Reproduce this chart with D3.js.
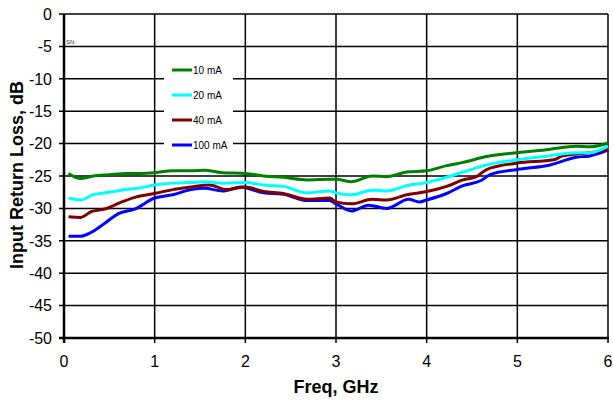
<!DOCTYPE html>
<html><head><meta charset="utf-8">
<script src="https://cdn.jsdelivr.net/npm/d3@7"></script>
<style>body{margin:0;background:#fff}svg{display:block}</style>
</head><body>
<script>
const xTicks = [0,1,2,3,4,5,6];
const yTicks = [0,-5,-10,-15,-20,-25,-30,-35,-40,-45,-50];
const seriesNames = ["10 mA","20 mA","40 mA","100 mA"];
const seriesColors = ["#008000","#00ffff","#800000","#0000ff"];

const f10 = [0.05,0.18,0.32,0.5,0.68,0.85,1.0,1.2,1.4,1.55,1.75,2.0,2.2,2.42,2.68,2.93,3.0,3.17,3.4,3.56,3.78,4.0,4.22,4.4,4.66,5.0,5.35,5.65,5.8,6.0];
const v10 = [-24.6,-25.4,-25.0,-24.8,-24.6,-24.6,-24.5,-24.2,-24.2,-24.1,-24.5,-24.6,-25.0,-25.2,-25.6,-25.5,-25.5,-25.9,-25.0,-25.1,-24.4,-24.2,-23.4,-22.9,-22.0,-21.4,-20.9,-20.4,-20.5,-19.9];

const f20 = [0.05,0.18,0.32,0.5,0.68,0.85,1.0,1.2,1.4,1.55,1.75,2.0,2.2,2.42,2.68,2.93,3.0,3.17,3.4,3.56,3.78,4.0,4.22,4.4,4.66,5.0,5.35,5.65,5.8,6.0];
const v20 = [-28.4,-28.7,-27.9,-27.5,-27.1,-26.8,-26.4,-26.1,-26.0,-25.9,-26.1,-26.0,-26.4,-26.6,-27.6,-27.3,-27.6,-27.9,-27.2,-27.3,-26.5,-26.0,-25.2,-24.4,-23.3,-22.5,-21.9,-21.4,-21.4,-20.4];

const f40 = [0.05,0.18,0.3,0.45,0.62,0.78,1.0,1.2,1.4,1.6,1.8,2.0,2.2,2.42,2.68,2.93,3.0,3.17,3.4,3.56,3.78,4.0,4.22,4.4,4.55,4.66,5.0,5.4,5.5,5.8,6.0];
const v40 = [-31.3,-31.4,-30.5,-30.1,-29.1,-28.3,-27.7,-27.1,-26.7,-26.4,-27.1,-26.7,-27.4,-27.7,-28.6,-28.4,-29.0,-29.3,-28.6,-28.7,-27.9,-27.4,-26.6,-25.6,-25.1,-24.0,-23.0,-22.5,-21.9,-21.4,-20.9];

const f100 = [0.05,0.18,0.3,0.45,0.6,0.78,1.0,1.2,1.4,1.55,1.75,1.95,2.2,2.42,2.68,2.93,3.0,3.17,3.36,3.56,3.8,3.92,4.0,4.22,4.4,4.6,4.7,5.0,5.36,5.65,5.8,6.0];
const v100 = [-34.3,-34.3,-33.7,-32.3,-30.8,-30.1,-28.4,-27.9,-27.1,-26.9,-27.3,-26.7,-27.6,-27.8,-28.8,-28.8,-29.3,-30.4,-29.5,-30.0,-28.6,-29.0,-28.7,-27.7,-26.5,-25.7,-24.8,-24.0,-23.3,-22.1,-21.9,-21.0];

const W = 613, H = 402;
const svg = d3.select("body").append("svg").attr("width",W).attr("height",H);
const x = d3.scaleLinear().domain([0,6]).range([64,608]);
const y = d3.scaleLinear().domain([-50,0]).range([338,14]);

const font = "'Liberation Sans', Arial, sans-serif";

// gridlines
const g = svg.append("g");
g.selectAll("line.h").data(yTicks.filter(d=>d!==-50)).join("line")
  .attr("x1",59).attr("x2",608).attr("y1",d=>y(d)).attr("y2",d=>y(d))
  .attr("stroke","#000").attr("stroke-width",1.5);
g.selectAll("line.v").data(xTicks.filter(d=>d!==0)).join("line")
  .attr("y1",14).attr("y2",343).attr("x1",d=>x(d)).attr("x2",d=>x(d))
  .attr("stroke","#000").attr("stroke-width",1.5);

// legend background
svg.append("rect").attr("x",164).attr("y",55).attr("width",69).attr("height",105).attr("fill","#fff");

// axes
svg.append("line").attr("x1",64).attr("x2",64).attr("y1",14).attr("y2",343).attr("stroke","#000").attr("stroke-width",2.5);
svg.append("line").attr("x1",59).attr("x2",609).attr("y1",338).attr("y2",338).attr("stroke","#000").attr("stroke-width",2.5);

// tick labels
svg.selectAll("text.yt").data(yTicks).join("text")
  .attr("x",52).attr("y",d=>y(d)).attr("dy","0.36em").attr("text-anchor","end")
  .attr("font-family",font).attr("font-size",16).text(d=>d);
svg.selectAll("text.xt").data(xTicks).join("text")
  .attr("x",d=>x(d)).attr("y",367).attr("text-anchor","middle")
  .attr("font-family",font).attr("font-size",16).text(d=>d);

// axis titles
svg.append("text").attr("x",336).attr("y",393).attr("text-anchor","middle")
  .attr("font-family",font).attr("font-size",18).attr("font-weight","bold").text("Freq, GHz");
svg.append("text").attr("transform","translate(23,175) rotate(-90)").attr("text-anchor","middle")
  .attr("font-family",font).attr("font-size",18).attr("font-weight","bold").text("Input Return Loss, dB");

// small note
svg.append("text").attr("x",66).attr("y",44).attr("font-family",font).attr("font-size",6).attr("fill","#333").text("SN:");

// series
const line = d3.line().x(d=>x(d[0])).y(d=>y(d[1])).curve(d3.curveMonotoneX);
const allF = [f10,f20,f40,f100], allV = [v10,v20,v40,v100];
[3,2,1,0].forEach(i=>{
  const pts = allF[i].map((f,j)=>[f,allV[i][j]]);
  svg.append("path").attr("d",line(pts)).attr("fill","none")
    .attr("stroke",seriesColors[i]).attr("stroke-width",3).attr("stroke-linejoin","round");
});

// legend
const ly = [70,95,120,145];
seriesNames.forEach((n,i)=>{
  svg.append("line").attr("x1",172).attr("x2",192).attr("y1",ly[i]).attr("y2",ly[i])
    .attr("stroke",seriesColors[i]).attr("stroke-width",3);
  svg.append("text").attr("x",193).attr("y",ly[i]).attr("dy","0.35em")
    .attr("font-family",font).attr("font-size",10).text(n);
});
</script>
</body></html>
